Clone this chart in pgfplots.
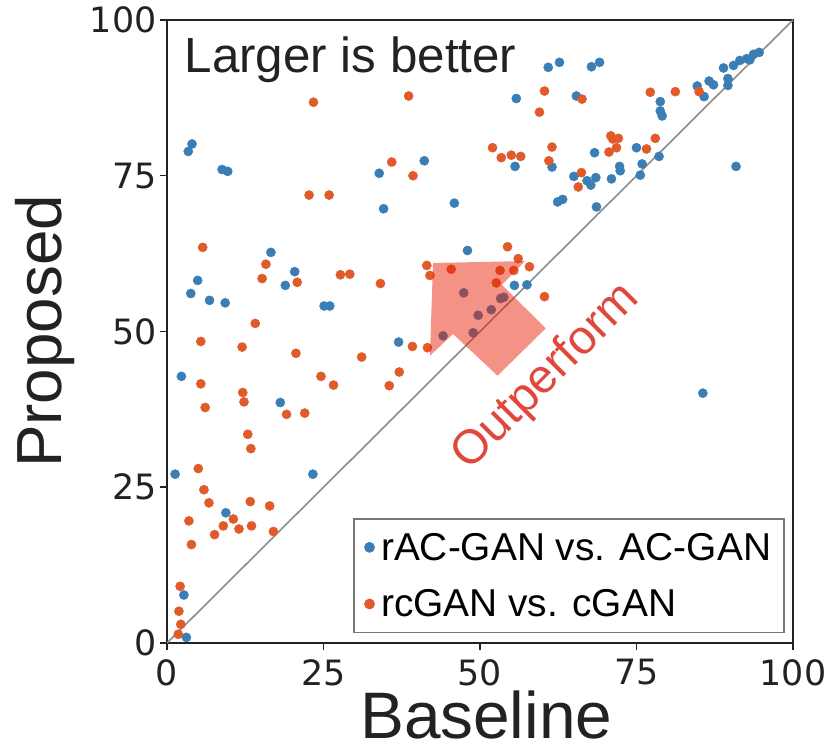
\documentclass[border=0pt]{standalone}
\usepackage{pgfplots}
\pgfplotsset{compat=1.18}
\usepackage{fontspec}
\setmainfont{Liberation Sans}
\newfontfamily\dejavu{DejaVu Sans}
\definecolor{cblue}{HTML}{3A7EB5}
\definecolor{corange}{HTML}{E05A2A}
\definecolor{arrowred}{RGB}{232,30,0}
\definecolor{txtred}{HTML}{E0483C}
\definecolor{frame}{HTML}{222222}
\definecolor{diag}{HTML}{8C8C8C}
\definecolor{legframe}{HTML}{7A7570}

\begin{document}
\begin{tikzpicture}
\useasboundingbox (-167bp,-111bp) rectangle (663bp,643bp);
\begin{axis}[
  at={(0,0)}, anchor=south west,
  scale only axis, width=626bp, height=623bp,
  xmin=0, xmax=100, ymin=0, ymax=100,
  clip mode=individual,
  xtick={0,25,50,75,100}, ytick={0,25,50,75,100},
  tick pos=left, tick align=outside, major tick length=7bp,
  tick style={frame, line width=1.5bp},
  axis line style={frame, line width=1.5bp},
  /pgf/number format/assume math mode=true,
  ticklabel style={font=\dejavu\fontsize{35}{35}\selectfont, text=frame},
  xticklabel style={yshift=-6bp},
  xlabel={Baseline}, ylabel={Proposed},
  xlabel style={at={(axis description cs:0.51,-0.1525)}, anchor=base,
    font=\fontsize{66}{66}\selectfont, text=frame},
  ylabel style={at={(axis description cs:-0.168,0.5)}, anchor=base,
    font=\fontsize{64}{64}\selectfont, text=frame},
  legend style={at={(axis description cs:0.987,0.016)}, anchor=south east,
    draw=legframe, line width=1.5bp, font=\fontsize{39}{47}\selectfont,
    inner xsep=11bp, inner ysep=12bp, row sep=24bp,
    /tikz/every odd column/.append style={column sep=5bp}},
  legend cell align=left,
]
\addplot[diag, line width=1.6bp, forget plot] coordinates {(0,0) (100,100)};

\addplot[cblue, only marks, mark=*, mark size=4.6bp, mark options={draw=cblue, fill=cblue}]
coordinates {
(4.0,80.1) (3.4,78.9) (8.8,76.0) (9.7,75.7) (41.1,77.4) (33.9,75.4)
(34.6,69.7) (45.9,70.6) (16.6,62.7) (4.9,58.2) (20.4,59.6) (18.9,57.4)
(48.0,63.0) (47.4,56.2) (49.7,52.6) (3.8,56.1) (6.8,55.0) (9.3,54.6)
(25.1,54.1) (26.0,54.1) (55.5,57.4) (57.5,57.5) (53.3,55.3) (53.8,55.5)
(51.8,53.5) (48.9,49.8) (44.1,49.3) (37.0,48.3) (2.3,42.8) (18.1,38.6)
(1.3,27.1) (23.3,27.1) (9.4,20.9) (2.7,7.7) (3.1,0.9)
(60.9,92.4) (62.7,93.2) (67.8,92.5) (69.1,93.2) (55.8,87.4) (65.4,87.8)
(84.7,89.4) (85.8,87.7) (86.6,90.2) (87.3,89.6) (89.6,90.6) (89.6,89.5)
(88.9,92.3) (90.5,92.7) (91.5,93.5) (92.6,93.8) (93.7,94.5) (94.6,94.8)
(93.1,93.6) (78.8,86.9) (78.8,85.4) (79.1,84.6) (55.6,76.5) (61.5,76.4)
(68.3,78.7) (75.0,79.5) (78.6,78.1) (75.9,76.9) (75.6,75.1) (72.3,76.5)
(72.4,75.8) (71.0,74.5) (65.0,74.9) (67.1,74.2) (67.7,73.5) (68.5,74.7)
(62.4,70.8) (63.2,71.2) (68.6,70.0) (90.9,76.5) (85.6,40.1)
};
\addlegendentry{rAC-GAN vs. AC-GAN}

\addplot[corange, only marks, mark=*, mark size=4.6bp, mark options={draw=corange, fill=corange}]
coordinates {
(23.4,86.8) (38.6,87.8) (35.9,77.2) (39.3,75.0) (22.7,71.9) (25.9,71.9)
(5.7,63.5) (15.8,60.8) (15.2,58.5) (20.8,57.9) (27.7,59.1) (29.2,59.2)
(34.1,57.7) (41.5,60.6) (42.0,59.0) (45.4,60.0) (14.1,51.3) (54.4,63.6)
(56.1,61.7) (57.9,60.4) (53.2,59.8) (55.4,59.8) (52.6,57.8) (60.3,55.6)
(39.2,47.6) (41.6,47.4) (37.1,43.5) (35.5,41.3) (5.4,48.4) (12.0,47.5)
(20.6,46.5) (31.1,45.9) (5.4,41.6) (24.6,42.8) (26.6,41.4) (12.1,40.2)
(12.3,38.7) (6.1,37.8) (19.1,36.7) (22.0,36.9) (12.9,33.5) (13.4,31.2)
(5.0,28.0) (5.9,24.6) (6.7,22.5) (13.3,22.7) (16.4,22.0) (3.5,19.6)
(10.6,19.9) (9.0,18.8) (11.5,18.3) (13.5,18.8) (7.6,17.4) (17.0,17.9)
(3.9,15.8) (2.1,9.1) (1.9,5.1) (2.2,3.0) (1.8,1.4)
(60.3,88.6) (59.5,85.2) (66.3,87.3) (77.2,88.4) (81.2,88.5) (85.0,88.5)
(52.0,79.5) (53.4,77.9) (55.0,78.3) (56.5,78.1) (61.5,79.6) (61.0,77.4)
(70.9,81.4) (71.2,80.9) (72.1,81.0) (70.6,78.8) (71.8,79.5) (76.6,79.3)
(78.0,81.0) (66.2,75.5) (65.7,73.2)
};
\addlegendentry{rcGAN vs. cGAN}

% arrow pointing to the better side, drawn over the marks
\addplot[forget plot, draw=none, fill=arrowred, fill opacity=0.48]
coordinates {(42.5,61.0) (57.2,61.3) (53.5,57.5) (60.5,50.5)
  (52.8,42.9) (45.7,49.6) (42.0,46.1)} -- cycle;

\node[rotate=45, text=txtred, font=\fontsize{48}{48}\selectfont]
  at (axis cs:60.6,42.6) {Outperform};
\node[anchor=base west, inner sep=0pt, text=frame, font=\fontsize{49.5}{49.5}\selectfont]
  at (axis cs:2.8,91.6) {Larger is better};
\end{axis}
\end{tikzpicture}
\end{document}
